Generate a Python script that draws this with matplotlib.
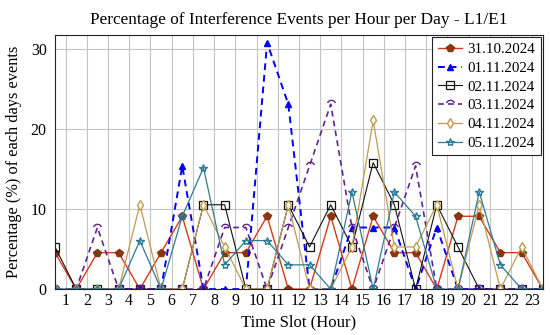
import matplotlib

matplotlib.use("Agg")
import matplotlib.pyplot as plt  # noqa: E402
import numpy as np  # noqa: E402
from matplotlib.path import Path  # noqa: E402

plt.rcParams["font.family"] = ["Liberation Serif", "DejaVu Serif"]
plt.rcParams["mathtext.fontset"] = "stix"

# hourly slots 0..23, drawn in the middle of each slot
hours = np.arange(24)
tick_labels = [str(h) for h in range(1, 24)]

# percentage of events per hour (each day sums to 100 %)
d_3110 = [4.55, 0, 4.55, 4.55, 0, 4.55, 9.09, 0, 4.55, 4.55, 9.09, 0,
          0, 9.09, 0, 9.09, 4.55, 4.55, 0, 9.09, 9.09, 4.55, 4.55, 0]
d_0111 = [0, 0, 0, 0, 0, 0, 15.38, 0, 0, 0, 30.77, 23.08,
          0, 0, 7.69, 7.69, 7.69, 0, 7.69, 0, 0, 0, 0, 0]
d_0211 = [5.26, 0, 0, 0, 0, 0, 0, 10.53, 10.53, 0, 0, 10.53,
          5.26, 10.53, 5.26, 15.79, 10.53, 0, 10.53, 5.26, 0, 0, 0, 0]
d_0311 = [0, 0, 7.69, 0, 0, 0, 0, 0, 7.69, 7.69, 0, 7.69,
          15.38, 23.08, 7.69, 0, 7.69, 15.38, 0, 0, 0, 0, 0, 0]
d_0411 = [0, 0, 0, 0, 10.53, 0, 0, 10.53, 5.26, 0, 0, 10.53,
          0, 0, 5.26, 21.05, 5.26, 5.26, 10.53, 0, 10.53, 0, 5.26, 0]
d_0511 = [0, 0, 0, 0, 6.06, 0, 9.09, 15.15, 3.03, 6.06, 6.06, 3.03,
          3.03, 0, 12.12, 0, 12.12, 9.09, 0, 0, 12.12, 3.03, 0, 0]

# open half circle, used for 03.11
half = Path.arc(200, 340)
half_mark = Path(half.vertices * np.array([1, -1]), half.codes)

x = hours + 0.5

fig = plt.figure(figsize=(5.5, 3.35), dpi=100)
ax = fig.add_axes([0.1, 0.137, 0.887, 0.758])

ax.plot(x, d_3110, color="#d43a1c", lw=1.0, marker="p", ms=6,
        mfc="#8c3410", mec="#8c3410", label="31.10.2024")
ax.plot(x, d_0111, color="#0000ff", lw=1.4, ls=(0, (3.5, 2.5)), marker="^", ms=5,
        mfc="#0000ff", mec="#0000ff", label="01.11.2024")
ax.plot(x, d_0211, color="#111111", lw=0.8, marker="s", ms=5.5,
        mfc="none", mec="#111111", mew=0.9, label="02.11.2024")
ax.plot(x, d_0311, color="#5e2590", lw=1.2, ls=(0, (3.5, 2.5)), marker=half_mark, ms=6,
        mfc="none", mec="#5e2590", label="03.11.2024")
ax.plot(x, d_0411, color="#c09a52", lw=0.9, marker="d", ms=5,
        mfc="#fffbe8", mec="#c09a52", label="04.11.2024")
ax.plot(x, d_0511, color="#2f7a94", lw=0.9, marker="*", ms=6,
        mfc="none", mec="#2f7a94", label="05.11.2024")

ax.set_xlim(0.5, 23.5)
ax.set_ylim(0, 31.7)
ax.set_xticks(range(1, 24))
ax.set_xticklabels(tick_labels)
ax.set_yticks([0, 10, 20, 30])
ax.grid(True, color="#c4c4c4", lw=0.8)
ax.set_axisbelow(True)
ax.tick_params(direction="in", length=3, labelsize=11.5, color="#c4c4c4", pad=3)
ax.tick_params(axis="y", pad=6)
for s in ax.spines.values():
    s.set_color("#222222")
    s.set_linewidth(0.8)

ax.set_title("Percentage of Interference Events per Hour per Day - L1/E1",
             fontsize=12.4, pad=8)
ax.set_xlabel("Time Slot (Hour)", fontsize=12, labelpad=4)
ax.set_ylabel("Percentage (%) of each days events", fontsize=11.8, labelpad=6)

leg = ax.legend(loc="upper right", fontsize=10.8, fancybox=False, framealpha=1,
                edgecolor="#222222", handlelength=1.6, handletextpad=0.4,
                borderpad=0.35, labelspacing=0.35, borderaxespad=0.15)
leg.get_frame().set_linewidth(0.8)

fig.savefig("out.png", dpi=100)
plt.close(fig)
